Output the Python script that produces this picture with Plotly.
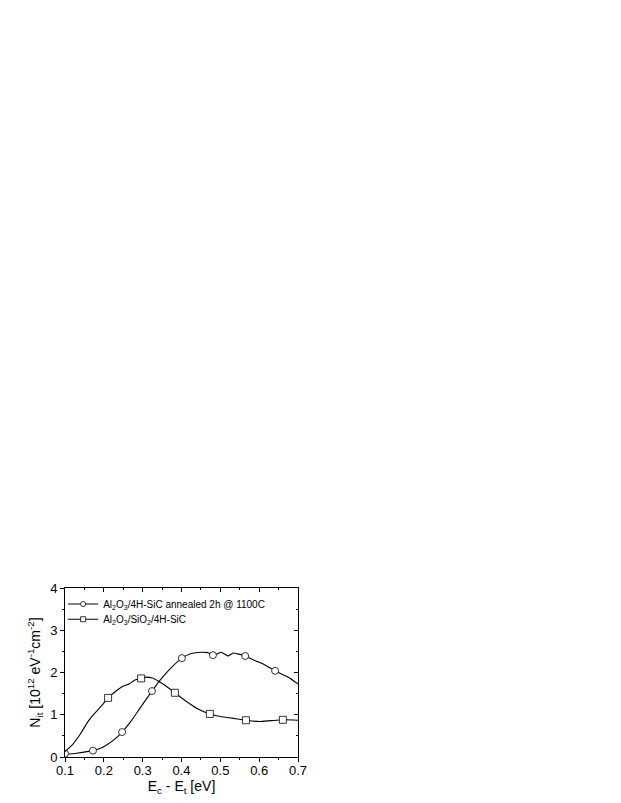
import plotly.graph_objects as go

# Series 1: Al2O3/4H-SiC annealed 2h @ 1100C (open circles)
ann_x = [0.100, 0.130, 0.172, 0.190, 0.206, 0.225, 0.247, 0.270, 0.295, 0.324, 0.345, 0.370,
         0.401, 0.425, 0.450, 0.468, 0.481, 0.492, 0.502, 0.512, 0.520, 0.533, 0.545, 0.564,
         0.590, 0.615, 0.641, 0.660, 0.675, 0.700]
ann_y = [0.06, 0.09, 0.15, 0.20, 0.28, 0.40, 0.59, 0.85, 1.18, 1.56, 1.82, 2.08,
         2.34, 2.45, 2.48, 2.47, 2.41, 2.44, 2.48, 2.43, 2.39, 2.46, 2.44, 2.39,
         2.28, 2.18, 2.04, 1.95, 1.89, 1.73]
ann_mx = [0.100, 0.172, 0.247, 0.324, 0.401, 0.481, 0.564, 0.641]
ann_my = [0.08, 0.15, 0.59, 1.56, 2.34, 2.41, 2.39, 2.04]

# Series 2: Al2O3/SiO2/4H-SiC (open squares)
sio_x = [0.100, 0.120, 0.140, 0.160, 0.175, 0.195, 0.211, 0.230, 0.250, 0.265, 0.280, 0.296,
         0.310, 0.325, 0.340, 0.360, 0.383, 0.410, 0.440, 0.473, 0.500, 0.530, 0.566, 0.600,
         0.630, 0.661, 0.700]
sio_y = [0.13, 0.30, 0.55, 0.85, 1.02, 1.22, 1.40, 1.55, 1.68, 1.73, 1.82, 1.86,
         1.89, 1.87, 1.80, 1.68, 1.52, 1.33, 1.15, 1.02, 0.96, 0.92, 0.87, 0.84,
         0.86, 0.88, 0.87]
sio_mx = [0.211, 0.296, 0.383, 0.473, 0.566, 0.661]
sio_my = [1.40, 1.86, 1.52, 1.02, 0.87, 0.88]

names = ["Al<sub>2</sub>O<sub>3</sub>/4H-SiC annealed 2h @ 1100C",
         "Al<sub>2</sub>O<sub>3</sub>/SiO<sub>2</sub>/4H-SiC"]

x_ticks = [0.1, 0.2, 0.3, 0.4, 0.5, 0.6, 0.7]
y_ticks = [0, 1, 2, 3, 4]

FONT = "Liberation Sans, Arial, sans-serif"
fig = go.Figure()

series = [(ann_x, ann_y, ann_mx, ann_my, "circle", names[0], "legend"),
          (sio_x, sio_y, sio_mx, sio_my, "square", names[1], "legend2")]
for lx, ly, mx, my, sym, nm, lg in series:
    fig.add_trace(go.Scatter(x=lx, y=ly, mode="lines",
                             line=dict(color="black", width=1.1, shape="spline", smoothing=0.6),
                             showlegend=False, hoverinfo="skip"))
    fig.add_trace(go.Scatter(x=mx, y=my, mode="markers",
                             marker=dict(symbol=sym, size=7, color="white",
                                         line=dict(color="black", width=0.8)),
                             showlegend=False))
    fig.add_trace(go.Scatter(x=[None], y=[None], mode="lines+markers", name=nm, legend=lg,
                             line=dict(color="black", width=1.1),
                             marker=dict(symbol=sym, size=5, color="white",
                                         line=dict(color="black", width=0.8))))

# invisible trace for top/right mirror axes
fig.add_trace(go.Scatter(x=[0.1], y=[0], xaxis="x2", yaxis="y2", mode="markers",
                         marker=dict(opacity=0), showlegend=False, hoverinfo="skip"))

axis_common = dict(showgrid=False, zeroline=False, showline=True, linecolor="black", linewidth=1)
legend_common = dict(xanchor="left", yanchor="middle", bgcolor="rgba(0,0,0,0)",
                     font=dict(size=10, family=FONT), itemwidth=30)

fig.update_layout(
    width=621, height=803,
    margin=dict(l=57, r=331, t=580, b=54),
    paper_bgcolor="white", plot_bgcolor="white",
    font=dict(family=FONT, color="black", size=13),
    xaxis=dict(range=[0.1, 0.7], tickvals=x_ticks, ticktext=[f"{v:.1f}" for v in x_ticks],
               ticks="outside", ticklen=4, tickcolor="black", ticklabelstandoff=-3,
               minor=dict(dtick=0.05, ticks="outside", ticklen=2, tickcolor="black"),
               title=dict(text="E<sub>c</sub> - E<sub>t</sub> [eV]", font=dict(size=14), standoff=0),
               **axis_common),
    yaxis=dict(range=[0, 4], tickvals=y_ticks, ticks="outside", ticklen=4, tickcolor="black",
               minor=dict(dtick=0.5, ticks="outside", ticklen=2, tickcolor="black"),
               title=dict(text="N<sub>it</sub> [10<sup>12</sup> eV<sup>-1</sup>cm<sup>-2</sup>]",
                          font=dict(size=14), standoff=6),
               **axis_common),
    xaxis2=dict(range=[0.1, 0.7], overlaying="x", side="top", anchor="y2", tickvals=x_ticks,
                showticklabels=False, ticks="inside", ticklen=4, tickcolor="black",
                minor=dict(dtick=0.05, ticks="inside", ticklen=2, tickcolor="black"),
                **axis_common),
    yaxis2=dict(range=[0, 4], overlaying="y", side="right", anchor="x2", tickvals=y_ticks,
                showticklabels=False, ticks="inside", ticklen=4, tickcolor="black",
                minor=dict(dtick=0.5, ticks="inside", ticklen=2, tickcolor="black"),
                **axis_common),
    legend=dict(x=-0.008, y=0.905, **legend_common),
    legend2=dict(x=-0.008, y=0.815, **legend_common),
)

fig.write_html("out.html")
